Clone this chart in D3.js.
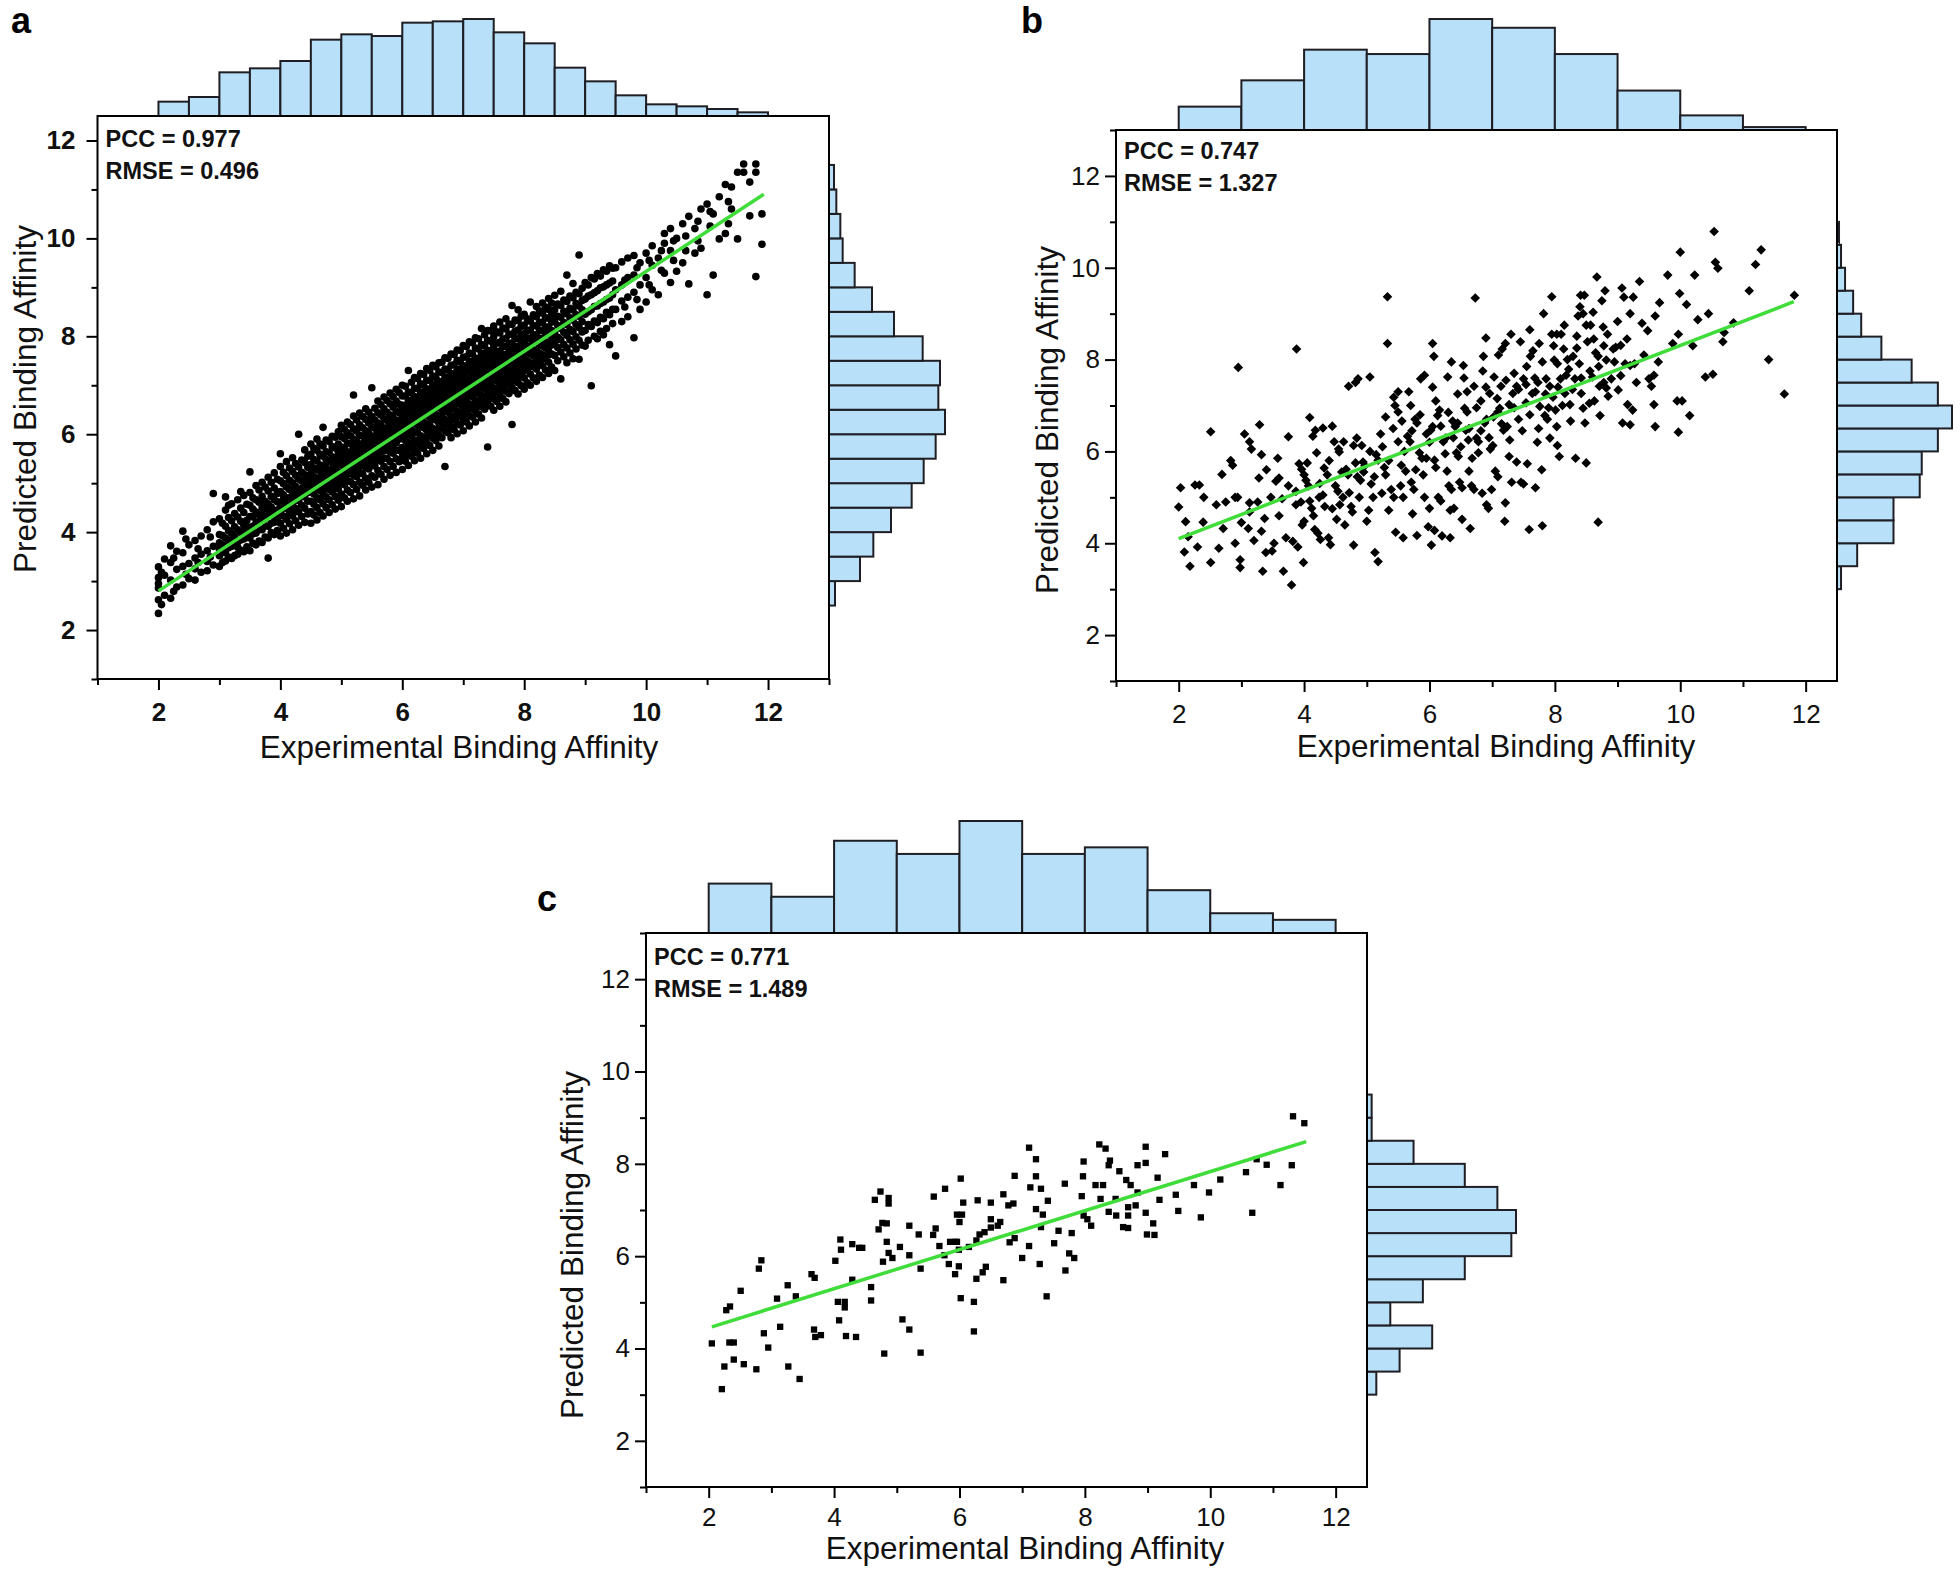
<!DOCTYPE html>
<html>
<head>
<meta charset="utf-8">
<script src="https://cdn.jsdelivr.net/npm/d3@7"></script>
<style>
  body { margin: 0; background: #fff; }
  text { font-family: "Liberation Sans", Arial, sans-serif; }
</style>
</head>
<body>
<svg id="fig" width="1960" height="1576"></svg>
<script>
// ---------- data ----------
// marginal histograms: counts per bin (bin start, bin width given in panel config)
const aTopCounts = [43, 57, 131, 143, 165, 229, 245, 240, 280, 284, 291, 251, 218, 145, 104, 62, 35, 29, 21, 11];
const aRightCounts = [18, 93, 133, 186, 248, 284, 320, 348, 328, 333, 281, 195, 129, 77, 41, 34, 22, 15];
const bTopCounts = [16, 34, 55, 52, 76, 70, 52, 27, 10, 2];
const bRightCounts = [2, 10, 28, 28, 41, 42, 50, 57, 50, 37, 22, 12, 8, 4, 2, 1];
const cTopCounts = [15, 11, 28, 24, 34, 24, 26, 13, 6, 4];
const cRightCounts = [2, 7, 14, 5, 12, 21, 31, 32, 28, 21, 10, 1, 1];

// fitted lines (end points)
const aFit = [[2.0, 2.80], [11.93, 10.90]];
const bFit = [[2.0, 4.10], [11.81, 9.26]];
const cFit = [[2.05, 4.47], [11.53, 8.48]];

const aStats = ["PCC = 0.977", "RMSE = 0.496"];
const bStats = ["PCC = 0.747", "RMSE = 1.327"];
const cStats = ["PCC = 0.771", "RMSE = 1.489"];

const tickValues = [2, 4, 6, 8, 10, 12];

// panel a scatter: experimental value -> predicted values (dense cloud)
const aCols = [
 [2.0,[2.34,2.62,2.86,2.95,3.07,3.29]],
 [2.1,[2.71,3.12,3.45]],
 [2.2,[2.65,3.02,3.38,3.72]],
 [2.3,[2.88,3.24,3.61]],
 [2.4,[2.92,3.30,3.58,4.02]],
 [2.5,[3.05,3.36,3.74]],
 [2.6,[3.02,3.25,3.47,3.83]],
 [2.7,[3.18,3.55,3.92]],
 [2.8,[3.21,3.40,3.62,4.05]],
 [2.9,[3.33,3.71,4.21,4.79]],
 [3.0,[3.30,3.52,3.65,3.78,3.95,4.27]],
 [3.1,[3.41,3.58,3.64,3.88,4.12,4.45,4.72]],
 [3.2,[3.46,3.71,3.84,3.97,4.23,4.58]],
 [3.3,[3.55,3.69,3.80,4.05,4.31,4.66]],
 [3.4,[3.60,3.86,4.02,4.14,4.40,4.75]],
 [3.5,[3.62,3.88,4.00,4.10,4.32,4.55,4.81,5.23]],
 [3.6,[3.74,3.98,4.07,4.19,4.41,4.66,4.95]],
 [3.7,[3.79,4.05,4.27,4.36,4.50,4.73,5.02]],
 [3.8,[3.47,3.88,4.12,4.35,4.58,4.84,5.12]],
 [3.9,[3.95,4.20,4.31,4.44,4.66,4.90,5.21]],
 [4.0,[3.92,4.18,4.40,4.52,4.61,4.83,5.05,5.34,5.60]],
 [4.1,[3.98,4.26,4.49,4.61,4.70,4.92,5.15,5.44]],
 [4.2,[4.05,4.33,4.45,4.57,4.79,5.01,5.24,5.52]],
 [4.3,[4.14,4.41,4.64,4.75,4.86,5.08,5.33,6.00]],
 [4.4,[4.20,4.49,4.72,4.88,4.95,5.17,5.42,5.68]],
 [4.5,[4.18,4.42,4.63,4.82,4.95,5.00,5.19,5.38,5.59,5.80]],
 [4.6,[4.25,4.50,4.70,4.90,5.01,5.08,5.27,5.46,5.67,5.90]],
 [4.7,[4.33,4.58,4.79,4.88,4.98,5.16,5.35,5.55,5.76,6.14]],
 [4.8,[4.40,4.66,4.87,4.95,5.06,5.20,5.25,5.44,5.63,5.85]],
 [4.9,[4.47,4.73,4.95,5.05,5.14,5.33,5.40,5.52,5.72,5.94]],
 [5.0,[4.52,4.78,5.00,5.10,5.19,5.37,5.46,5.55,5.74,5.95,6.18]],
 [5.1,[4.63,4.86,5.05,5.18,5.27,5.45,5.54,5.63,5.82,6.03,6.25]],
 [5.2,[4.68,4.97,5.16,5.26,5.38,5.50,5.62,5.71,5.90,6.11,6.37,6.80]],
 [5.3,[4.74,5.02,5.21,5.34,5.43,5.61,5.70,5.79,5.98,6.19,6.43]],
 [5.4,[4.86,5.10,5.32,5.42,5.51,5.69,5.79,5.88,6.07,6.30,6.52]],
 [5.5,[4.92,5.15,5.40,5.50,5.59,5.77,5.87,5.96,6.15,6.36,6.95]],
 [5.6,[4.97,5.26,5.48,5.58,5.67,5.85,5.94,6.04,6.23,6.44,6.68]],
 [5.7,[5.08,5.34,5.51,5.66,5.75,5.93,6.03,6.12,6.31,6.52,6.76]],
 [5.8,[5.16,5.44,5.64,5.71,5.83,6.01,6.11,6.20,6.39,6.62,6.84]],
 [5.9,[5.22,5.50,5.67,5.82,5.91,6.09,6.19,6.28,6.47,6.68,6.92]],
 [6.0,[5.28,5.52,5.62,5.73,5.91,6.08,6.16,6.24,6.41,6.50,6.59,6.78,7.00]],
 [6.1,[5.36,5.58,5.71,5.83,5.99,6.13,6.24,6.35,6.49,6.58,6.69,6.86,7.30]],
 [6.2,[5.46,5.66,5.79,5.88,6.04,6.24,6.30,6.42,6.57,6.68,6.77,6.94,7.16]],
 [6.3,[5.51,5.74,5.86,5.97,6.16,6.29,6.40,6.49,6.62,6.74,6.85,7.03,7.24]],
 [6.4,[5.60,5.82,5.95,6.08,6.21,6.40,6.46,6.57,6.73,6.82,6.93,7.10,7.34]],
 [6.5,[5.67,5.92,6.03,6.12,6.32,6.45,6.56,6.66,6.79,6.90,7.01,7.19,7.41]],
 [6.6,[5.76,5.98,6.11,6.23,6.37,6.56,6.61,6.73,6.89,6.96,7.08,7.27,7.46]],
 [6.7,[5.34,6.07,6.19,6.30,6.46,6.62,6.72,6.81,6.95,7.06,7.17,7.33,7.56]],
 [6.8,[5.93,6.15,6.28,6.37,6.55,6.70,6.81,6.89,7.05,7.15,7.24,7.41,7.64]],
 [6.9,[6.01,6.22,6.35,6.47,6.62,6.80,6.86,6.97,7.12,7.22,7.32,7.51,7.72]],
 [7.0,[6.07,6.31,6.43,6.54,6.72,6.86,6.97,7.05,7.21,7.31,7.40,7.57,7.81]],
 [7.1,[6.17,6.38,6.51,6.62,6.78,6.97,7.03,7.13,7.28,7.39,7.48,7.66,7.89]],
 [7.2,[6.25,6.48,6.60,6.69,6.89,7.04,7.14,7.22,7.37,7.48,7.55,7.76,7.97]],
 [7.3,[6.33,6.56,6.68,6.79,6.95,7.13,7.20,7.30,7.45,7.56,7.65,7.83,8.16]],
 [7.4,[5.74,6.64,6.76,6.87,7.05,7.20,7.30,7.38,7.53,7.64,7.71,7.92,8.12]],
 [7.5,[6.49,6.72,6.84,6.95,7.11,7.30,7.36,7.46,7.62,7.80,7.99,8.21]],
 [7.6,[6.57,6.80,6.93,7.03,7.21,7.36,7.46,7.54,7.70,7.88,8.07,8.29]],
 [7.7,[6.66,6.88,7.01,7.12,7.27,7.45,7.52,7.62,7.79,7.96,8.15,8.36]],
 [7.8,[6.20,6.96,7.08,7.19,7.37,7.52,7.62,7.70,7.86,8.04,8.24,8.63]],
 [7.9,[6.82,7.05,7.17,7.28,7.44,7.63,7.69,7.79,7.95,8.13,8.32,8.54]],
 [8.0,[6.92,7.15,7.30,7.38,7.56,7.72,7.87,8.05,8.23,8.45]],
 [8.1,[7.00,7.23,7.39,7.46,7.64,7.80,7.95,8.13,8.31,8.70]],
 [8.2,[7.08,7.33,7.46,7.55,7.71,7.89,8.03,8.21,8.40,8.61]],
 [8.3,[7.16,7.40,7.54,7.62,7.80,7.96,8.12,8.29,8.47,8.68]],
 [8.4,[7.24,7.47,7.62,7.70,7.87,8.04,8.19,8.37,8.55,8.77]],
 [8.5,[7.30,7.61,7.86,8.07,8.30,8.54,8.84]],
 [8.6,[7.13,7.68,7.93,8.16,8.39,8.63,8.92]],
 [8.7,[7.46,7.76,8.02,8.24,8.46,8.71,9.25]],
 [8.8,[7.54,7.84,8.10,8.33,8.54,8.79,9.08]],
 [8.9,[7.53,7.92,8.18,8.41,8.62,8.87,9.66]],
 [9.0,[7.80,8.12,8.45,8.76,9.10]],
 [9.1,[6.99,8.20,8.54,8.85,9.20]],
 [9.2,[7.95,8.28,8.62,8.93,9.28]],
 [9.3,[8.03,8.36,8.70,9.01,9.36]],
 [9.4,[7.83,8.44,8.78,9.09,9.44]],
 [9.5,[7.60,8.55,8.95,9.40]],
 [9.6,[8.30,8.72,9.05,9.52]],
 [9.7,[8.40,8.80,9.20,9.60]],
 [9.8,[7.97,8.90,9.25,9.65]],
 [9.9,[8.55,9.05,9.50]],
 [10.0,[8.70,9.20,9.70]],
 [10.1,[8.95,9.45,9.85]],
 [10.2,[8.85,9.60]],
 [10.3,[9.29,9.90,10.10]],
 [10.4,[9.10,9.75,10.20]],
 [10.5,[9.33,10.00]],
 [10.6,[9.50,10.30]],
 [10.7,[9.07,10.45]],
 [10.8,[9.70,10.20]],
 [10.9,[9.80,10.60]],
 [11.0,[8.85,10.70]],
 [11.1,[9.25,10.50]],
 [11.2,[9.99,10.85]],
 [11.3,[10.10,11.10]],
 [11.4,[10.60,11.05]],
 [11.5,[9.99,11.35]],
 [11.6,[11.35,11.52]],
 [11.7,[10.46,11.15]],
 [11.8,[9.22,11.35,11.52]],
 [11.9,[9.88,10.50]]
];

// panel a, additional measurements falling between the columns above
const aCols2 = [
 [2.05,[2.52,3.18]],[2.25,[2.79,3.47]],[2.45,[3.14,3.86]],[2.65,[3.38,3.66]],[2.85,[3.49,3.90]],
 [3.05,[3.38,3.59,3.74,3.93,4.18]],
 [3.15,[3.49,3.68,3.82,4.03,4.30,4.55]],
 [3.25,[3.52,3.77,3.91,4.11,4.38]],
 [3.35,[3.63,3.84,3.99,4.22,4.49,4.83]],
 [3.45,[3.70,3.89,4.08,4.24,4.57]],
 [3.55,[3.77,3.97,4.12,4.31,4.47,4.70]],
 [3.65,[3.82,4.05,4.22,4.36,4.61,4.86]],
 [3.75,[3.90,4.13,4.28,4.48,4.63,4.92]],
 [3.85,[3.99,4.18,4.42,4.51,4.73,5.02]],
 [3.95,[4.03,4.29,4.45,4.62,4.79,5.08]],
 [4.05,[4.08,4.33,4.49,4.66,4.76,4.99,5.22]],
 [4.15,[4.17,4.38,4.59,4.70,4.87,5.06,5.31]],
 [4.25,[4.23,4.48,4.66,4.82,4.93,5.16,5.40]],
 [4.35,[4.32,4.55,4.75,4.89,5.04,5.22,5.47]],
 [4.45,[4.37,4.63,4.81,4.97,5.10,5.32,5.55]],
 [4.55,[4.35,4.57,4.78,4.90,5.07,5.13,5.31,5.48,5.71]],
 [4.65,[4.40,4.66,4.85,5.01,5.12,5.26,5.37,5.59,5.80]],
 [4.75,[4.50,4.72,4.94,5.06,5.24,5.31,5.48,5.64,5.88]],
 [4.85,[4.56,4.82,5.01,5.17,5.29,5.42,5.54,5.75,5.96]],
 [4.95,[4.65,4.88,5.10,5.23,5.39,5.48,5.64,5.80,6.05]],
 [5.05,[4.70,4.97,5.16,5.33,5.44,5.58,5.70,5.91,6.10]],
 [5.15,[4.81,5.03,5.26,5.39,5.55,5.64,5.80,5.97,6.20]],
 [5.25,[4.87,5.13,5.33,5.49,5.60,5.74,5.86,6.06,6.29]],
 [5.35,[4.96,5.19,5.42,5.55,5.71,5.81,5.96,6.13,6.36]],
 [5.45,[5.02,5.29,5.48,5.65,5.77,5.91,6.02,6.23,6.45]],
 [5.55,[5.12,5.35,5.58,5.71,5.87,5.97,6.12,6.29,6.53]],
 [5.65,[5.18,5.45,5.64,5.81,5.93,6.07,6.18,6.39,6.60]],
 [5.75,[5.28,5.51,5.74,5.87,6.03,6.13,6.28,6.45,6.69]],
 [5.85,[5.34,5.61,5.80,5.97,6.09,6.23,6.34,6.55,6.77]],
 [5.95,[5.44,5.67,5.90,6.03,6.19,6.29,6.44,6.61,6.85]],
 [6.05,[5.45,5.71,5.87,6.02,6.12,6.24,6.33,6.47,6.59,6.78,6.98]],
 [6.15,[5.55,5.77,5.97,6.08,6.22,6.30,6.43,6.53,6.69,6.84,7.06]],
 [6.25,[5.61,5.87,6.03,6.18,6.28,6.40,6.49,6.63,6.75,6.94,7.14]],
 [6.35,[5.71,5.93,6.13,6.24,6.38,6.46,6.59,6.69,6.85,7.00,7.22]],
 [6.45,[5.77,6.03,6.19,6.34,6.44,6.56,6.65,6.79,6.91,7.10,7.30]],
 [6.55,[5.87,6.09,6.29,6.40,6.54,6.62,6.75,6.85,7.01,7.16,7.38]],
 [6.65,[5.93,6.19,6.35,6.50,6.60,6.72,6.81,6.95,7.07,7.26,7.47]],
 [6.75,[6.03,6.25,6.45,6.56,6.70,6.78,6.91,7.01,7.17,7.32,7.55]],
 [6.85,[6.09,6.35,6.51,6.66,6.76,6.88,6.97,7.11,7.23,7.42,7.63]],
 [6.95,[6.19,6.41,6.61,6.72,6.86,6.94,7.07,7.17,7.33,7.48,7.71]],
 [7.05,[6.25,6.51,6.67,6.82,6.92,7.04,7.13,7.27,7.39,7.58,7.79]],
 [7.15,[6.35,6.57,6.77,6.88,7.02,7.10,7.23,7.33,7.49,7.64,7.87]],
 [7.25,[6.41,6.67,6.83,6.98,7.08,7.20,7.29,7.43,7.55,7.74,7.95]],
 [7.35,[6.51,6.73,6.93,7.04,7.18,7.26,7.39,7.49,7.65,7.80,8.03]],
 [7.45,[6.57,6.83,6.99,7.14,7.24,7.36,7.45,7.59,7.71,7.90,8.11]],
 [7.55,[6.67,6.89,7.09,7.20,7.34,7.45,7.57,7.69,7.86,8.09]],
 [7.65,[6.73,6.99,7.15,7.30,7.40,7.53,7.63,7.79,7.94,8.17]],
 [7.75,[6.83,7.05,7.25,7.36,7.50,7.59,7.73,7.85,8.04,8.25]],
 [7.85,[6.89,7.15,7.31,7.46,7.56,7.69,7.79,7.95,8.10,8.33]],
 [7.95,[6.99,7.21,7.41,7.52,7.66,7.75,7.89,8.01,8.20,8.41]],
 [8.05,[7.05,7.32,7.50,7.67,7.80,7.97,8.12,8.36]],
 [8.15,[7.15,7.38,7.60,7.73,7.90,8.03,8.22,8.44]],
 [8.25,[7.21,7.48,7.66,7.83,7.96,8.13,8.28,8.52]],
 [8.35,[7.31,7.54,7.76,7.89,8.06,8.19,8.38,8.60]],
 [8.45,[7.37,7.64,7.82,7.99,8.12,8.29,8.44,8.68]],
 [8.55,[7.50,7.77,7.98,8.22,8.41,8.66]],
 [8.65,[7.58,7.83,8.08,8.28,8.51,8.74]],
 [8.75,[7.66,7.93,8.14,8.38,8.57,8.82]],
 [8.85,[7.74,7.99,8.24,8.44,8.67,8.90]],
 [8.95,[7.82,8.09,8.30,8.54,8.73,8.98]],
 [9.05,[7.92,8.24,8.50,8.82,9.05]],
 [9.15,[8.00,8.31,8.61,8.89,9.17]],
 [9.25,[8.10,8.39,8.67,8.99,9.23]],
 [9.35,[8.16,8.49,8.75,9.05,9.33]],
 [9.45,[8.26,8.55,8.85,9.13,9.39]],
 [9.65,[8.60,9.15]],[9.85,[8.75,9.40]],[10.05,[9.05,9.55]],[10.25,[9.35,9.75]],[10.45,[9.55,9.95]],
 [10.65,[9.75,10.05]],[10.85,[9.95,10.35]],[11.05,[10.25,10.55]],[11.35,[10.75,10.30]]
];

// panel b scatter [experimental, predicted]
const bPts = [
 [2.0,4.79],[2.03,5.21],[2.26,5.27],[2.33,5.27],[2.11,4.47],[2.15,4.14],[2.09,3.81],[2.18,3.5],[2.3,3.92],[2.39,4.46],
 [2.51,3.58],[2.51,6.43],[2.6,4.84],[2.64,3.89],[2.69,5.5],[2.71,4.32],[2.83,5.8],[2.86,5.7],[2.9,5.0],[2.94,5.0],
 [2.9,4.0],[2.95,7.83],[2.98,3.64],[2.98,3.47],[3.05,6.38],[3.11,4.32],[3.13,6.21],[3.16,6.05],[3.13,4.88],[3.13,4.68],
 [3.2,4.06],[3.28,5.42],[3.29,6.58],[3.32,5.93],[3.26,4.9],[3.32,4.26],[3.34,3.39],[3.37,4.54],[3.39,3.8],[3.47,5.0],
 [3.49,3.83],[3.52,4.0],[3.58,5.85],[3.6,5.42],[3.65,4.97],[3.67,3.39],[3.71,4.12],[3.75,6.32],[3.8,3.09],[3.82,4.04],
 [3.87,5.13],[3.87,4.84],[3.88,8.23],[3.9,3.92],[3.92,5.73],[3.96,5.61],[4.0,5.49],[3.97,4.4],[4.0,4.48],[3.99,3.58],
 [4.03,5.37],[4.07,5.25],[4.09,6.74],[4.09,4.92],[4.12,4.76],[4.14,6.33],[4.18,6.46],[4.17,4.3],[4.22,4.22],[4.2,5.97],
 [4.24,5.0],[4.26,4.08],[4.3,6.51],[4.32,5.64],[4.37,5.49],[4.33,4.8],[4.39,4.12],[4.42,3.97],[4.45,6.55],[4.48,6.21],
 [4.5,5.25],[4.54,5.13],[4.52,4.52],[4.56,5.99],[4.57,4.84],[4.62,5.0],[4.63,6.21],[4.67,5.61],[4.7,5.49],[4.71,7.42],
 [4.75,4.8],[4.77,4.68],[4.79,6.13],[4.79,3.96],[4.82,7.5],[4.86,7.58],[4.85,5.45],[4.9,5.37],[4.84,6.29],[4.88,5.0],
 [4.92,6.13],[4.94,5.77],[4.97,5.69],[5.0,4.48],[5.03,4.72],[5.05,7.62],[5.07,5.29],[5.1,5.0],[5.13,3.8],[5.15,5.93],
 [5.18,5.81],[5.18,3.6],[5.22,6.38],[5.24,5.09],[5.28,5.65],[5.3,5.49],[5.33,9.37],[5.33,8.35],[5.35,4.72],[5.39,5.17],
 [5.43,5.0],[5.43,7.18],[5.45,7.0],[5.5,6.86],[5.46,4.24],[5.5,6.21],[5.54,5.25],[5.58,5.0],[5.56,6.66],[5.58,4.12],
 [5.62,5.57],[5.65,6.33],[5.69,6.21],[5.67,7.3],[5.71,5.33],[5.73,4.64],[5.75,5.17],[5.77,6.7],[5.8,6.62],[5.8,4.17],
 [5.84,5.97],[5.88,5.85],[5.86,7.58],[5.92,7.66],[5.9,5.49],[5.92,5.0],[5.95,6.38],[5.98,4.36],[6.0,4.76],[6.02,6.46],
 [6.05,6.54],[6.03,3.96],[6.05,8.35],[6.07,8.07],[6.08,5.81],[6.1,5.65],[6.08,4.28],[6.13,6.78],[6.16,6.9],[6.14,5.0],
 [6.18,4.92],[6.2,4.16],[6.22,6.21],[6.26,6.29],[6.28,5.57],[6.29,7.62],[6.31,5.25],[6.35,5.17],[6.33,4.72],[6.33,4.12],
 [6.37,6.66],[6.41,6.54],[6.45,6.62],[6.39,4.76],[6.43,5.97],[6.46,5.89],[6.48,5.33],[6.52,5.21],[6.52,4.52],[6.54,7.87],
 [6.56,6.94],[6.6,6.86],[6.58,6.46],[6.63,6.5],[6.63,5.57],[6.65,4.32],[6.67,5.25],[6.71,5.17],[6.71,7.42],[6.73,9.34],
 [6.75,6.29],[6.78,6.21],[6.78,5.97],[6.82,7.1],[6.84,5.09],[6.86,8.07],[6.88,6.62],[6.91,6.7],[6.9,8.47],[6.91,4.84],
 [6.94,4.76],[6.96,7.26],[6.97,6.05],[7.01,6.13],[6.99,5.17],[7.03,7.62],[7.05,5.57],[7.09,5.45],[7.09,6.86],[7.12,6.94],
 [7.14,7.42],[7.16,8.23],[7.21,8.35],[7.18,6.46],[7.2,4.48],[7.21,4.88],[7.24,6.54],[7.27,7.02],[7.27,5.89],[7.31,5.33],
 [7.33,7.26],[7.39,7.42],[7.35,7.7],[7.39,5.77],[7.42,6.7],[7.45,8.39],[7.46,5.33],[7.5,5.29],[7.5,7.58],[7.54,7.46],
 [7.54,7.06],[7.56,5.73],[7.59,4.3],[7.61,8.07],[7.65,8.19],[7.64,7.26],[7.69,7.3],[7.69,5.21],[7.73,7.5],[7.74,6.5],
 [7.76,6.98],[7.79,5.6],[7.8,4.38],[7.82,9.0],[7.84,6.78],[7.88,6.7],[7.86,7.58],[7.92,7.42],[7.92,6.29],[7.95,9.37],
 [7.95,8.55],[8.03,8.55],[8.1,8.55],[7.97,7.18],[7.99,7.99],[8.04,7.91],[8.01,6.9],[8.03,6.54],[8.04,6.13],[8.07,5.89],
 [8.09,7.58],[8.14,8.23],[8.16,7.26],[8.18,7.66],[8.22,7.79],[8.24,7.02],[8.25,6.66],[8.29,8.07],[8.32,7.58],[8.33,5.85],
 [8.5,5.75],[8.35,8.51],[8.37,8.95],[8.45,9.0],[8.39,7.91],[8.41,9.4],[8.47,9.4],[8.42,7.26],[8.45,6.94],[8.48,6.62],
 [8.52,8.39],[8.56,7.75],[8.6,7.62],[8.57,8.75],[8.61,9.03],[8.63,7.1],[8.65,8.15],[8.69,8.07],[8.67,9.8],[8.69,4.46],
 [8.71,7.42],[8.72,6.78],[8.75,9.28],[8.77,8.71],[8.78,7.5],[8.82,7.38],[8.82,7.99],[8.84,8.55],[8.9,7.58],[8.93,8.23],
 [8.97,8.27],[9.0,8.83],[9.01,7.34],[9.05,8.31],[9.07,9.56],[9.08,6.62],[9.2,6.58],[9.1,9.36],[9.12,7.91],[9.16,7.02],
 [9.2,7.87],[9.27,7.91],[9.24,6.9],[9.25,9.36],[9.39,8.79],[9.48,8.63],[9.5,7.58],[9.58,7.66],[9.54,7.42],[9.58,7.02],
 [9.6,6.54],[9.65,7.95],[9.67,9.24],[9.8,9.84],[9.88,8.35],[9.95,7.1],[10.03,7.1],[9.97,6.42],[9.97,8.55],[9.99,9.44],
 [10.0,10.34],[10.1,9.2],[10.15,6.78],[10.23,9.84],[10.28,8.87],[10.4,7.62],[10.52,7.68],[10.54,10.79],[10.56,10.12],[10.6,9.99],
 [10.68,8.39],[10.7,8.59],[11.2,10.07],[11.29,10.39],[11.41,8.0],[11.66,7.25],[11.82,9.4],
 [4.25,5.3],[4.4,5.8],[4.6,5.55],[4.72,5.1],[4.95,5.55],[5.05,6.0],[5.12,5.45],[5.25,6.1],[5.35,5.8],[5.42,6.5],
 [5.55,5.7],[5.6,6.0],[5.72,6.45],[5.78,5.6],[5.85,6.8],[5.95,5.85],[6.0,6.2],[6.1,7.1],[6.18,6.55],[6.25,5.95],
 [6.3,6.85],[6.38,6.3],[6.45,7.25],[6.5,6.1],[6.55,7.6],[6.62,6.25],[6.68,5.85],[6.75,6.95],[6.82,6.45],[6.9,7.4],
 [6.95,6.3],[7.02,6.75],[7.08,7.15],[7.15,6.6],[7.22,7.55],[7.28,6.25],[7.35,6.95],[7.42,7.35],[7.48,6.45],[7.55,7.85],
 [7.6,6.8],[7.68,7.6],[7.72,6.2],[7.8,7.95],[7.85,7.25],[7.9,6.95],[7.98,8.3],[8.05,7.4],[8.12,7.0],[8.2,8.0],
 [8.28,7.35],[8.35,8.25],[8.42,7.6],[8.5,8.75],[8.55,7.05],[8.62,8.45],[8.7,7.85],[8.78,8.3],[8.85,7.2],[8.95,7.95],
 [9.05,7.65],[9.15,8.45],[9.3,7.5],[9.42,8.1],[3.6,4.6],[3.75,5.25],[3.95,4.9],[4.05,5.75],[4.15,4.6],[4.3,5.05],
 [4.45,4.75],[4.55,6.05],[4.65,4.4],[4.82,5.75],[3.4,5.6],[3.0,4.45],[2.75,4.9],[2.4,5.0],[3.55,5.35],[5.3,6.75],
 [5.5,7.3],[5.7,7.0],[6.05,7.4],[6.35,7.95],[6.6,7.3],[6.85,7.75],[7.1,8.1],[7.3,8.55],[7.6,8.65],[7.75,8.35],
 [8.15,8.75],[8.4,9.15],[8.8,9.5],[9.2,9.0],[9.35,9.7],[9.6,8.95],[10.2,8.3],[10.45,9.0],[10.85,8.8],[11.1,9.5]
];

// panel c scatter [experimental, predicted]
const cPts = [
 [2.05,4.11],[2.21,3.12],[2.25,3.61],[2.28,4.83],[2.34,4.91],[2.33,4.13],[2.4,4.13],[2.4,3.76],[2.51,5.25],[2.56,3.66],
 [2.76,3.55],[2.8,5.73],[2.84,5.91],[2.88,4.33],[2.95,4.02],[3.09,5.08],[3.14,4.47],[3.26,5.37],[3.27,3.61],[3.39,5.13],
 [3.45,3.34],[3.64,5.61],[3.69,5.53],[3.68,4.41],[3.7,4.25],[3.79,4.29],[4.02,5.9],[4.06,5.01],[4.17,5.01],[4.1,6.36],
 [4.11,6.14],[4.08,4.61],[4.17,4.89],[4.19,4.27],[4.29,6.26],[4.29,5.49],[4.35,4.25],[4.4,6.18],[4.45,6.18],[4.59,5.33],
 [4.59,5.04],[4.65,7.22],[4.71,6.58],[4.74,7.4],[4.77,6.72],[4.84,6.71],[4.78,5.88],[4.8,3.89],[4.84,6.31],[4.87,7.26],
 [4.87,7.14],[4.87,6.07],[4.93,5.96],[5.05,6.2],[5.09,4.63],[5.2,4.41],[5.2,6.66],[5.2,6.02],[5.35,6.47],[5.38,5.73],
 [5.38,3.91],[5.58,6.46],[5.62,6.6],[5.59,7.29],[5.68,6.22],[5.76,6.02],[5.77,7.46],[5.83,5.83],[5.85,6.31],[5.93,6.31],
 [5.96,6.31],[5.93,5.61],[5.96,6.9],[6.04,6.9],[5.99,6.14],[5.99,5.78],[6.0,6.74],[6.02,7.68],[6.02,5.09],[6.06,7.16],
 [6.15,6.2],[6.23,5.01],[6.23,4.37],[6.27,6.34],[6.27,5.51],[6.29,7.21],[6.32,6.47],[6.37,5.65],[6.42,5.77],[6.4,6.52],
 [6.5,7.16],[6.5,6.62],[6.61,6.66],[6.5,6.8],[6.65,6.74],[6.7,7.34],[6.7,5.48],[6.78,7.1],[6.86,7.14],[6.8,6.3],
 [6.88,6.39],[6.88,7.74],[7.0,5.96],[7.11,8.35],[7.11,6.22],[7.13,7.49],[7.22,8.1],[7.22,7.73],[7.22,7.02],[7.28,5.83],
 [7.3,6.63],[7.3,7.46],[7.33,6.9],[7.39,5.13],[7.41,7.2],[7.51,6.28],[7.58,6.55],[7.68,7.57],[7.69,5.69],[7.75,6.06],
 [7.83,5.96],[7.79,6.5],[7.95,7.3],[7.97,7.73],[7.98,8.05],[7.98,6.88],[8.04,6.8],[8.1,6.66],[8.17,7.54],[8.29,7.54],
 [8.23,8.42],[8.33,8.33],[8.25,7.24],[8.38,7.97],[8.4,8.07],[8.38,6.96],[8.49,7.24],[8.5,6.88],[8.55,7.84],[8.61,6.63],
 [8.66,7.65],[8.73,7.54],[8.69,6.61],[8.69,7.06],[8.69,6.88],[8.81,7.1],[8.84,7.38],[8.84,7.97],[8.97,8.37],[8.97,8.02],
 [8.97,6.94],[8.99,6.47],[9.11,6.46],[9.09,6.71],[9.16,7.7],[9.19,7.22],[9.28,8.21],[9.45,7.33],[9.49,6.98],[9.74,7.54],
 [9.85,6.84],[9.98,7.38],[10.16,7.66],[10.57,7.82],[10.67,6.94],[10.74,8.1],[10.9,7.98],[11.12,7.54],[11.3,7.97],[11.32,9.03],
 [11.5,8.88]
];

const aPts = aCols.concat(aCols2).flatMap(c => c[1].map(y => [c[0], y]));

// ---------- layout ----------
const panels = [
  { letter: "a", letterPos: [11, 33], pts: aPts, mark: "circle",
    L: 97.5, R: 829, T: 116, B: 679, xDom: [1, 13], yDom: [1, 12.5],
    top: { start: 2, w: 0.5, counts: aTopCounts, len: 97 },
    right: { start: 2.5, w: 0.5, counts: aRightCounts, len: 116 },
    fit: aFit, stats: aStats, statY: 31, bold: true, tickFont: 26, yGap: 22, xPad: 13,
    xTitle: [459, 758], yTitle: [25, 399] },
  { letter: "b", letterPos: [1021, 33], pts: bPts, mark: "diamond",
    L: 1116, R: 1837, T: 130, B: 681, xDom: [1, 12.5], yDom: [1, 13],
    top: { start: 2, w: 1, counts: bTopCounts, len: 111 },
    right: { start: 3, w: 0.5, counts: bRightCounts, len: 115 },
    fit: bFit, stats: bStats, statY: 29, bold: false, tickFont: 26, yGap: 16, xPad: 13,
    xTitle: [1496, 757], yTitle: [1047, 420] },
  { letter: "c", letterPos: [537, 911], pts: cPts, mark: "square",
    L: 646, R: 1367, T: 933, B: 1487, xDom: [1, 12.5], yDom: [1, 13],
    top: { start: 2, w: 1, counts: cTopCounts, len: 112 },
    right: { start: 3, w: 0.5, counts: cRightCounts, len: 149 },
    fit: cFit, stats: cStats, statY: 32, bold: false, tickFont: 26, yGap: 16, xPad: 10,
    xTitle: [1025, 1559], yTitle: [572, 1245] }
];

const histFill = "#b8e0f8";
const histStroke = "#1e1e24";
const fitColor = "#3fdc3a";

const svg = d3.select("#fig");

panels.forEach(p => {
  const g = svg.append("g");
  const x = d3.scaleLinear().domain(p.xDom).range([p.L, p.R]);
  const y = d3.scaleLinear().domain(p.yDom).range([p.B, p.T]);

  // top histogram (x distribution)
  const ht = d3.scaleLinear().domain([0, d3.max(p.top.counts)]).range([0, p.top.len]);
  g.append("g").selectAll("rect")
    .data(p.top.counts)
    .join("rect")
    .attr("x", (d, i) => x(p.top.start + i * p.top.w))
    .attr("width", (d, i) => x(p.top.start + (i + 1) * p.top.w) - x(p.top.start + i * p.top.w))
    .attr("y", d => p.T - ht(d))
    .attr("height", d => ht(d))
    .attr("fill", histFill)
    .attr("stroke", histStroke)
    .attr("stroke-width", 2);

  // right histogram (y distribution)
  const hr = d3.scaleLinear().domain([0, d3.max(p.right.counts)]).range([0, p.right.len]);
  g.append("g").selectAll("rect")
    .data(p.right.counts)
    .join("rect")
    .attr("x", p.R)
    .attr("y", (d, i) => y(p.right.start + (i + 1) * p.right.w))
    .attr("height", (d, i) => y(p.right.start + i * p.right.w) - y(p.right.start + (i + 1) * p.right.w))
    .attr("width", d => hr(d))
    .attr("fill", histFill)
    .attr("stroke", histStroke)
    .attr("stroke-width", 2);

  // frame
  g.append("rect")
    .attr("x", p.L).attr("y", p.T)
    .attr("width", p.R - p.L).attr("height", p.B - p.T)
    .attr("fill", "none").attr("stroke", "#000").attr("stroke-width", 2);

  // axes with outward ticks, minor ticks on odd values
  const minorX = d3.range(Math.ceil(p.xDom[0]), p.xDom[1] + 0.01, 1).filter(v => v % 2 === 1);
  const minorY = d3.range(Math.ceil(p.yDom[0]), p.yDom[1] + 0.01, 1).filter(v => v % 2 === 1);
  const fw = p.bold ? "bold" : "normal";

  g.append("g").attr("transform", `translate(0,${p.B})`)
    .call(d3.axisBottom(x).tickValues(tickValues).tickSize(11).tickPadding(p.xPad).tickFormat(d3.format("d")));
  g.append("g").attr("transform", `translate(0,${p.B})`)
    .call(d3.axisBottom(x).tickValues(minorX).tickSize(6).tickFormat(""));
  g.append("g").attr("transform", `translate(${p.L},0)`)
    .call(d3.axisLeft(y).tickValues(tickValues).tickSize(11).tickPadding(p.yGap - 11).tickFormat(d3.format("d")));
  g.append("g").attr("transform", `translate(${p.L},0)`)
    .call(d3.axisLeft(y).tickValues(minorY).tickSize(6).tickFormat(""));

  g.selectAll(".domain").remove();
  g.selectAll(".tick line").attr("stroke", "#000").attr("stroke-width", 2);
  g.selectAll(".tick text")
    .attr("fill", "#111")
    .attr("font-size", p.tickFont)
    .attr("font-weight", fw)
    .attr("font-family", "Liberation Sans, Arial, sans-serif");

  // scatter points
  const pts = g.append("g");
  if (p.mark === "circle") {
    pts.selectAll("circle").data(p.pts).join("circle")
      .attr("cx", d => x(d[0])).attr("cy", d => y(d[1]))
      .attr("r", 3.8).attr("fill", "#000");
  } else if (p.mark === "diamond") {
    const sym = d3.symbol().type(d3.symbolSquare).size(46);
    pts.selectAll("path").data(p.pts).join("path")
      .attr("d", sym)
      .attr("transform", d => `translate(${x(d[0])},${y(d[1])}) rotate(45)`)
      .attr("fill", "#000");
  } else {
    const sym = d3.symbol().type(d3.symbolSquare).size(40);
    pts.selectAll("path").data(p.pts).join("path")
      .attr("d", sym)
      .attr("transform", d => `translate(${x(d[0])},${y(d[1])})`)
      .attr("fill", "#000");
  }

  // fitted line
  g.append("path")
    .attr("d", d3.line().x(d => x(d[0])).y(d => y(d[1]))(p.fit))
    .attr("stroke", fitColor).attr("stroke-width", 3.5).attr("fill", "none");

  // statistics
  g.selectAll(".stat").data(p.stats).join("text")
    .attr("class", "stat")
    .attr("x", p.L + 8)
    .attr("y", (d, i) => p.T + p.statY + i * 32)
    .attr("font-size", 23.5).attr("font-weight", "bold").attr("fill", "#111")
    .text(d => d);

  // axis titles
  g.append("text")
    .attr("x", p.xTitle[0]).attr("y", p.xTitle[1])
    .attr("text-anchor", "middle").attr("font-size", 31.5).attr("fill", "#111")
    .text("Experimental Binding Affinity");
  g.append("text")
    .attr("transform", `translate(${p.yTitle[0]},${p.yTitle[1]}) rotate(-90)`)
    .attr("text-anchor", "middle").attr("dominant-baseline", "central")
    .attr("font-size", 31.5).attr("fill", "#111")
    .text("Predicted Binding Affinity");

  // panel letter
  g.append("text")
    .attr("x", p.letterPos[0]).attr("y", p.letterPos[1])
    .attr("font-size", 36).attr("font-weight", "bold").attr("fill", "#000")
    .text(p.letter);
});
</script>
</body>
</html>
